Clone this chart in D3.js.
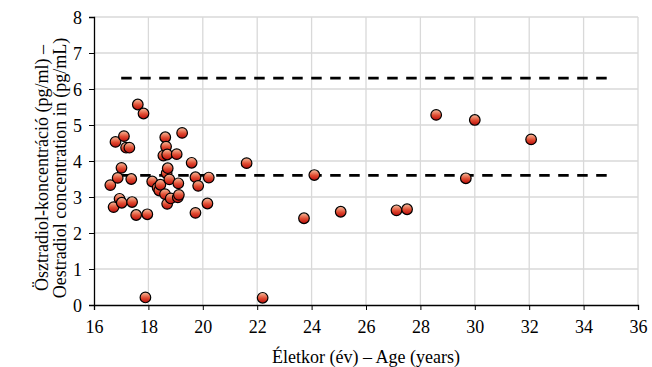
<!DOCTYPE html>
<html>
<head>
<meta charset="utf-8">
<script src="https://cdn.jsdelivr.net/npm/d3@7"></script>
<style>
  .tl { font-family: "Times New Roman" !important; font-size: 18px; }
</style>
</head>
<body style="margin:0; background:#fff">
<div id="chart"></div>
<script>
// age of each subject (years)
var ages = [16.60, 16.72, 16.79, 16.87, 16.94, 17.01, 17.02, 17.10, 17.18, 17.30,
            17.37, 17.40, 17.55, 17.61, 17.82, 17.89, 17.96, 18.14, 18.34, 18.40,
            18.44, 18.55, 18.61, 18.62, 18.65, 18.67, 18.69, 18.69, 18.71, 18.77,
            18.82, 19.04, 19.08, 19.10, 19.12, 19.24, 19.59, 19.73, 19.73, 19.83,
            20.17, 20.22, 21.61, 22.20, 23.72, 24.10, 25.07, 27.12, 27.51, 28.58,
            29.67, 30.00, 32.07];
// oestradiol concentration (pg/mL)
var conc = [3.33, 2.72, 4.53, 3.53, 2.95, 3.81, 2.84, 4.69, 4.37, 4.37,
            3.50, 2.86, 2.50, 5.57, 5.32, 0.21, 2.52, 3.43, 3.26, 3.18,
            3.34, 4.15, 3.08, 4.66, 4.40, 3.66, 4.18, 2.81, 3.80, 3.49,
            2.96, 4.19, 2.99, 3.38, 3.06, 4.78, 3.95, 3.55, 2.56, 3.31,
            2.82, 3.54, 3.94, 0.20, 2.41, 3.61, 2.59, 2.63, 2.66, 5.28,
            3.52, 5.14, 4.60];
// reference range lines
var refLevels = [3.6, 6.3];
var refFrom = 17, refTo = 35;
var xTicks = [16, 18, 20, 22, 24, 26, 28, 30, 32, 34, 36];
var yTicks = [0, 1, 2, 3, 4, 5, 6, 7, 8];

var W = 652, H = 367;
var margin = {top: 17, right: 14, bottom: 62, left: 94};
var width = W - margin.left - margin.right,
    height = H - margin.top - margin.bottom;
var serif = "Liberation Serif";

var x = d3.scaleLinear().domain([16, 36]).range([0, width]);
var y = d3.scaleLinear().domain([0, 8]).range([height, 0]);

var svg = d3.select("#chart").append("svg")
    .attr("width", W)
    .attr("height", H)
    .attr("font-family", serif);

var defs = svg.append("defs");
var grad = defs.append("linearGradient")
    .attr("id", "dotFill")
    .attr("x1", 0).attr("y1", 0).attr("x2", 0).attr("y2", 1);
grad.append("stop").attr("offset", "0%").attr("stop-color", "#f7c0a0");
grad.append("stop").attr("offset", "55%").attr("stop-color", "#e04a30");
grad.append("stop").attr("offset", "100%").attr("stop-color", "#b80c0c");

var g = svg.append("g")
    .attr("transform", "translate(" + margin.left + "," + margin.top + ")");

// gridlines
g.append("g").selectAll("line")
    .data(yTicks.slice(1))
    .enter().append("line")
    .attr("x1", 0).attr("x2", width)
    .attr("y1", function(d) { return y(d); })
    .attr("y2", function(d) { return y(d); })
    .attr("stroke", "#d9d9d9").attr("stroke-width", 1.3);

g.append("g").selectAll("line")
    .data(xTicks.slice(1))
    .enter().append("line")
    .attr("y1", 0).attr("y2", height)
    .attr("x1", function(d) { return x(d); })
    .attr("x2", function(d) { return x(d); })
    .attr("stroke", "#d9d9d9").attr("stroke-width", 1.3);

// axes
var xAxis = g.append("g")
    .attr("transform", "translate(0," + height + ")")
    .call(d3.axisBottom(x).tickValues(xTicks).tickSize(5).tickPadding(5));
var yAxis = g.append("g")
    .call(d3.axisLeft(y).tickValues(yTicks).tickSize(5).tickPadding(7));

[xAxis, yAxis].forEach(function(a) {
    a.attr("font-family", "Times New Roman").attr("font-size", 18);
    a.select(".domain").attr("stroke", "#000").attr("stroke-width", 1.3);
    a.selectAll(".tick line").attr("stroke", "#000").attr("stroke-width", 1);
    a.selectAll(".tick text")
        .attr("class", "tl")
        .attr("fill", "#000");
});
xAxis.selectAll(".tick text").attr("dy", "1em");
yAxis.selectAll(".tick text").attr("dy", "0.34em");

// reference lines
g.append("g").selectAll("line")
    .data(refLevels)
    .enter().append("line")
    .attr("x1", x(refFrom)).attr("x2", x(refTo))
    .attr("y1", function(d) { return y(d); })
    .attr("y2", function(d) { return y(d); })
    .attr("stroke", "#000")
    .attr("stroke-width", 2.8)
    .attr("stroke-dasharray", "10.5,8.5");

// points
g.append("g").selectAll("circle")
    .data(ages.map(function(a, i) { return {age: a, e2: conc[i]}; }))
    .enter().append("circle")
    .attr("cx", function(d) { return x(d.age); })
    .attr("cy", function(d) { return y(d.e2); })
    .attr("r", 5.3)
    .attr("fill", "url(#dotFill)")
    .attr("stroke", "#000")
    .attr("stroke-width", 1.2);

// axis titles
svg.append("text")
    .attr("x", margin.left + width / 2)
    .attr("y", 363)
    .attr("text-anchor", "middle")
    .attr("font-family", serif)
    .attr("font-size", 18)
    .text("Életkor (év) – Age (years)");

var yt = svg.append("text")
    .attr("transform", "translate(0,168) rotate(-90)")
    .attr("text-anchor", "middle")
    .attr("font-family", serif)
    .attr("font-size", 18);
yt.append("tspan").attr("x", 0).attr("y", 48).text("Ösztradiol-koncentráció (pg/ml) –");
yt.append("tspan").attr("x", 0).attr("y", 66).text("Oestradiol concentration in (pg/mL)");
</script>
</body>
</html>
